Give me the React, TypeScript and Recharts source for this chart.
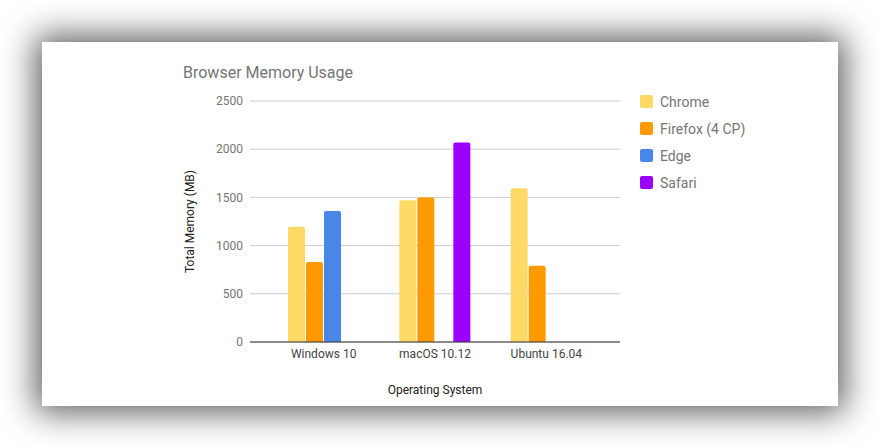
import { BarChart, Bar, XAxis, YAxis, CartesianGrid } from 'recharts';

const systems = ['Windows 10', 'macOS 10.12', 'Ubuntu 16.04'];
const chrome = [1195, 1470, 1595];
const firefox = [830, 1500, 790];
const edge = [1360, null, null];
const safari = [null, 2070, null];
const yTicks = [0, 500, 1000, 1500, 2000, 2500];

const browsers = [
  { key: 'chrome', name: 'Chrome', color: '#FFD966' },
  { key: 'firefox', name: 'Firefox (4 CP)', color: '#FF9900' },
  { key: 'edge', name: 'Edge', color: '#4A86E8' },
  { key: 'safari', name: 'Safari', color: '#9900FF' },
];

const data = systems.map((os, i) => ({
  os,
  chrome: chrome[i],
  firefox: firefox[i],
  edge: edge[i],
  safari: safari[i],
}));

const font = 'Roboto, "Noto Sans", sans-serif';

// legend sits to the right of the plot, drawn as plain html
function LegendBox() {
  return (
    <div style={{ position: 'absolute', left: 598, top: 46, fontFamily: font }}>
      {browsers.map((b) => (
        <div key={b.key} style={{ display: 'flex', alignItems: 'center', height: 27 }}>
          <span style={{ width: 13, height: 13, borderRadius: 2, background: b.color, marginRight: 7 }} />
          <span style={{ fontSize: 14, color: '#757575' }}>{b.name}</span>
        </div>
      ))}
    </div>
  );
}

export default function App() {
  return (
    <div style={{ position: 'absolute', left: 0, top: 0, width: 880, height: 448, background: '#fff', overflow: 'hidden' }}>
      <div
        style={{
          position: 'absolute',
          left: 42,
          top: 42,
          width: 796,
          height: 364,
          background: '#fff',
          boxShadow: '0 0 32px 6px rgba(0,0,0,0.65)',
        }}
      >
        <div style={{ position: 'absolute', left: 141, top: 21, fontFamily: font, fontSize: 16, color: '#757575' }}>
          Browser Memory Usage
        </div>
        <BarChart
          width={796}
          height={364}
          data={data}
          margin={{ top: 59, right: 218, bottom: 0, left: 0 }}
          barSize={17}
          barGap={1}
          style={{ fontFamily: font }}
        >
          <CartesianGrid vertical={false} stroke="#cccccc" />
          <XAxis
            dataKey="os"
            height={64}
            padding={{ left: 18, right: 18 }}
            axisLine={{ stroke: '#333333' }}
            tickLine={false}
            tickSize={0}
            tickMargin={7}
            tick={{ fill: '#444444', fontSize: 12 }}
            label={{ value: 'Operating System', position: 'insideBottom', offset: 12, fill: '#222222', fontSize: 12 }}
          />
          <YAxis
            width={208}
            domain={[0, 2500]}
            ticks={yTicks}
            axisLine={false}
            tickLine={false}
            tickSize={0}
            tickMargin={7}
            tick={{ fill: '#757575', fontSize: 12 }}
            label={{ value: 'Total Memory (MB)', angle: -90, position: 'center', dx: 44, fill: '#222222', fontSize: 12 }}
          />
          {browsers.map((b) => (
            <Bar key={b.key} dataKey={b.key} name={b.name} fill={b.color} radius={[2, 2, 0, 0]} isAnimationActive={false} />
          ))}
        </BarChart>
        <LegendBox />
      </div>
    </div>
  );
}
